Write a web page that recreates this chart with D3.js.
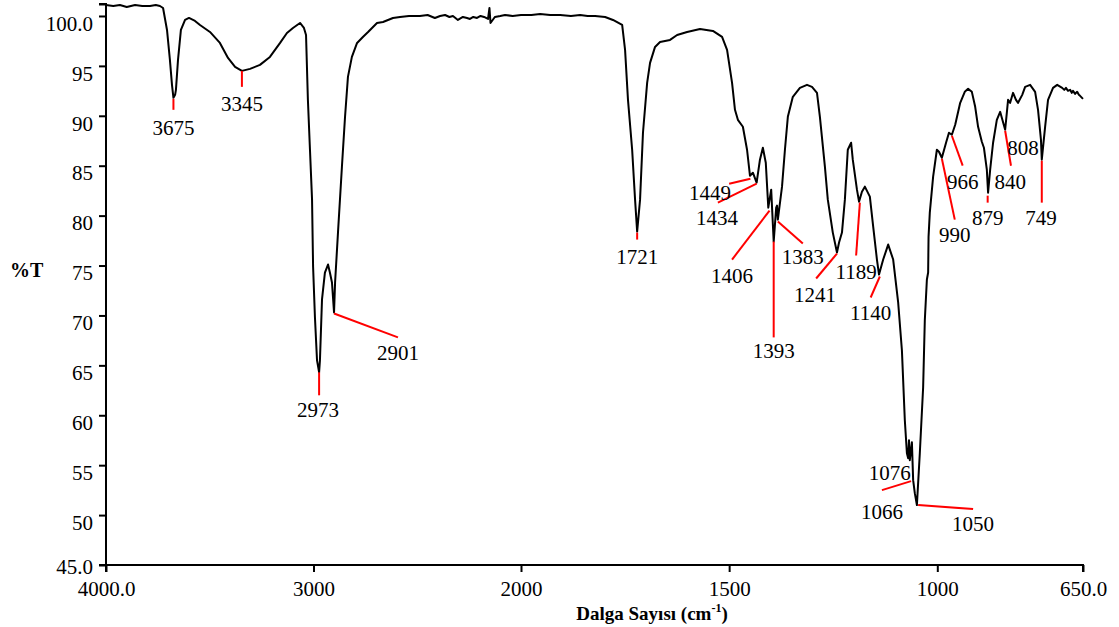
<!DOCTYPE html>
<head>
  <meta charset="utf-8">
  <title>FTIR</title>
  <style>
    body { margin: 0; background: #fff; }
    svg { display: block; }
    text { font-family: "Liberation Serif", "Times New Roman", serif; fill: #000; }
    .axis path, .axis line { stroke: #000; stroke-width: 2px; }
    .axis text { font-size: 21px; }
  </style>
</head>

<body>
  <div id="chart"></div>

  <script src="https://cdn.jsdelivr.net/npm/d3@7"></script>
  <script type="text/javascript">

    // spectrum (wavenumber cm-1, %T)
    var wavenumber = [4000, 3965, 3933, 3900, 3860, 3825, 3788, 3760, 3740, 3725, 3706, 3692, 3682, 3675, 3667, 3663, 3653, 3639, 3619, 3600, 3571, 3547, 3499, 3451, 3412, 3378, 3345, 3306, 3258, 3210, 3161, 3128, 3099, 3065, 3046, 3036, 3027, 3017, 3007, 3002, 2993, 2983, 2973, 2969, 2959, 2945, 2930, 2921, 2911, 2901, 2896, 2882, 2863, 2848, 2834, 2815, 2790, 2762, 2737, 2694, 2665, 2617, 2583, 2540, 2487, 2450, 2415, 2390, 2366, 2345, 2328, 2304, 2280, 2260, 2246, 2230, 2212, 2195, 2178, 2159, 2152, 2147, 2126, 2100, 2077, 2040, 2000,
      1975, 1954, 1930, 1906, 1880, 1858, 1840, 1822, 1798, 1779, 1757, 1750, 1743, 1733, 1726, 1721, 1714, 1707, 1697, 1690, 1678, 1666, 1642, 1625, 1601, 1570, 1539, 1517, 1505, 1493, 1486, 1479, 1467, 1457, 1450, 1443, 1434, 1426, 1419, 1412, 1406, 1399, 1393, 1387, 1385, 1383, 1373, 1366, 1359, 1347, 1330, 1313, 1301, 1289, 1282, 1270, 1263, 1251, 1241, 1236, 1229, 1222, 1215, 1207, 1203, 1193, 1188, 1181, 1174, 1162, 1154, 1145, 1140, 1130, 1118, 1106, 1094, 1085, 1078, 1073, 1070, 1068, 1066, 1061, 1058, 1054, 1049, 1042, 1034, 1030, 1025, 1022, 1021, 1018, 1010, 1001, 996, 989, 979, 972, 965, 957, 945, 934, 926, 917, 909, 902, 893, 888, 881, 878, 873, 866, 857, 849, 845, 837, 833, 830, 825, 818, 811, 806, 796, 789, 777, 765, 758, 751, 749, 741, 734, 722, 712, 700, 695, 691, 686, 681, 677, 674, 669, 664, 660, 657, 650];

    var transmittance = [101.1, 101.0, 101.1, 100.9, 101.1, 101.0, 101.0, 101.1, 101.0, 100.8, 98.6, 95.6, 93.1, 91.8, 92.1, 92.6, 95.6, 98.6, 99.6, 99.8, 99.5, 99.1, 98.4, 97.3, 95.8, 94.9, 94.5, 94.7, 95.1, 95.9, 97.3, 98.3, 98.8, 99.3, 98.8, 98.1, 91.6, 86.6, 81.6, 74.9, 69.8, 65.5, 64.3, 65.5, 71.6, 74.3, 75.1, 74.3, 73.3, 70.3, 73.3, 78.3, 84.9, 89.9, 93.9, 95.9, 97.3, 97.9, 98.4, 99.3, 99.4, 99.8, 99.9, 100.0, 100.0, 100.1, 99.8, 100.0, 100.1, 99.9, 100.0, 99.6, 99.9, 99.8, 99.7, 99.9, 99.8, 100.0, 99.9, 99.7, 100.8, 99.3, 99.9, 100.0, 100.1, 100.0, 100.1,
      100.1, 100.2, 100.1, 100.1, 100.0, 100.1, 100.0, 100.0, 99.9, 99.6, 99.1, 96.6, 91.6, 86.6, 81.6, 78.4, 81.6, 88.3, 93.3, 95.3, 96.9, 97.4, 97.6, 98.1, 98.4, 98.7, 98.5, 97.9, 96.6, 93.3, 90.6, 89.6, 88.9, 86.6, 84.0, 84.3, 83.3, 85.6, 86.8, 85.3, 80.8, 82.6, 77.4, 80.8, 81.0, 79.6, 82.9, 86.6, 89.9, 91.9, 92.8, 93.1, 92.9, 92.3, 89.9, 84.9, 81.6, 78.3, 76.3, 77.3, 78.3, 81.6, 86.6, 87.3, 85.6, 82.6, 81.4, 82.4, 82.9, 81.9, 78.9, 75.6, 74.1, 75.6, 77.1, 75.6, 71.3, 66.5, 59.5, 56.2, 55.7, 57.5, 55.5, 57.3, 53.5, 52.2, 51.0, 56.2, 62.8, 69.5, 73.6, 74.3, 77.9, 80.3, 83.9, 86.6, 86.4, 85.8, 87.3, 88.3, 88.1, 89.1, 91.3, 92.4, 92.7, 92.4, 90.9, 88.9, 87.4, 86.8, 84.6, 82.3, 84.6, 87.3, 89.6, 90.4, 89.8, 88.6, 90.3, 91.6, 91.3, 92.3, 91.6, 91.3, 92.1, 92.9, 93.1, 92.4, 90.6, 87.6, 85.6, 88.9, 91.6, 92.8, 93.1, 92.8, 92.6, 92.8, 92.5, 92.6, 92.3, 92.5, 92.2, 92.4, 92.1, 92.0, 91.7];

    // peak annotations: tip on the curve, end of red leader, text centre (data units)
    var peakLabels = ["3675", "3345", "2973", "2901", "1721", "1449", "1434", "1406", "1393", "1383", "1241", "1189", "1140", "1076", "1066", "1050", "990", "966", "879", "840", "808", "749"];
    var tipWn   = [3675, 3345, 2973, 2901, 1721, 1449, 1434, 1403, 1393, 1383, 1241, 1186, 1138, null, 1063, 1046, 989, 965, 879, 837, null, 749];
    var tipT    = [91.7, 94.5, 64.3, 70.2, 78.3, 83.7, 83.2, 80.5, 77.4, 79.4, 76.2, 81.3, 73.9, null, 53.4, 51.0, 85.7, 88.0, 82.0, 88.5, null, 85.5];
    var endWn   = [3675, 3345, 2973, 2593, 1721, 1500, 1527, 1493, 1393, 1323, 1291, 1195, 1160, null, 1133, 914, 958, 939, 879, 823, null, 749];
    var endT    = [90.6, 92.9, 62.0, 67.8, 77.6, 83.2, 81.3, 75.6, 67.8, 77.2, 73.7, 76.0, 71.8, null, 52.5, 50.6, 79.6, 85.0, 81.3, 85.0, null, 81.3];
    var textWn  = [3675, 3345, 2978, 2593, 1721, 1546, 1529, 1493, 1393, 1323, 1294, 1195, 1160, 1114, 1133, 914, 958, 939, 879, 825, 794, 751];
    var textT   = [88.8, 91.2, 60.6, 66.3, 75.9, 82.3, 79.8, 74.0, 66.5, 75.9, 72.1, 74.4, 70.3, 54.3, 50.3, 49.1, 78.1, 83.4, 79.8, 83.4, 86.8, 79.8];

    var xTicks = [4000, 3000, 2000, 1500, 1000, 650];
    var xTickLabels = ["4000.0", "3000", "2000", "1500", "1000", "650.0"];
    var yTicks = [45, 50, 55, 60, 65, 70, 75, 80, 85, 90, 95, 100, 101.2];
    var yTickLabels = ["45.0", "50", "55", "60", "65", "70", "75", "80", "85", "90", "95", "100.0", ""];

    var width = 1119, height = 627;

    var svg = d3.select("#chart").append("svg")
       .attr("width", width)
       .attr("height", height);

    // the x axis is compressed by half above 2000 cm-1
    var x = d3.scaleLinear().domain([4000, 2000, 650]).range([106, 521, 1083]);
    var y = d3.scaleLinear().domain([45, 101.2]).range([565, 4]);

    var xAxis = d3.axisBottom(x)
        .tickValues(xTicks)
        .tickSize(7)
        .tickPadding(6)
        .tickFormat((d, i) => xTickLabels[i]);

    var yAxis = d3.axisLeft(y)
        .tickValues(yTicks)
        .tickSize(7)
        .tickPadding(6)
        .tickFormat((d, i) => yTickLabels[i]);

    var gx = svg.append("g")
        .attr("class", "axis")
        .attr("transform", "translate(0,565)")
        .call(xAxis);
    gx.select(".domain").attr("d", "M106,7V0H1083V7");
    gx.selectAll("text").attr("dy", "0.88em");

    var gy = svg.append("g")
        .attr("class", "axis")
        .attr("transform", "translate(106,0)")
        .call(yAxis);
    gy.select(".domain").attr("d", "M-7,4H0V565H-7");
    // labels sit a little below their ticks, as in the original
    gy.selectAll("text").attr("dy", d => d == 45 ? "0.42em" : "0.68em");

    // spectrum
    var spectrum = wavenumber.map((w, i) => [w, transmittance[i]]);
    var line = d3.line()
        .x(d => x(d[0]))
        .y(d => y(d[1]));

    svg.append("path")
        .datum(spectrum)
        .attr("d", line)
        .attr("fill", "none")
        .attr("stroke", "#000")
        .attr("stroke-width", 2)
        .attr("stroke-linejoin", "round");

    // red leaders + peak labels
    var peaks = peakLabels.map((p, i) => ({
        label: p, tw: tipWn[i], tt: tipT[i], ew: endWn[i], et: endT[i], xw: textWn[i], xt: textT[i]
    }));

    svg.append("g").selectAll("line")
        .data(peaks.filter(d => d.tw != null))
        .join("line")
        .attr("x1", d => x(d.tw))
        .attr("y1", d => y(d.tt))
        .attr("x2", d => x(d.ew))
        .attr("y2", d => y(d.et))
        .attr("stroke", "#ff0000")
        .attr("stroke-width", 2);

    svg.append("g").selectAll("text")
        .data(peaks)
        .join("text")
        .attr("x", d => x(d.xw))
        .attr("y", d => y(d.xt))
        .attr("dy", "0.35em")
        .attr("text-anchor", "middle")
        .style("font-size", "21px")
        .text(d => d.label);

    // axis titles
    svg.append("text")
        .attr("x", 10)
        .attr("y", 277)
        .style("font-size", "20px")
        .style("font-weight", "bold")
        .text("%T");

    var xt = svg.append("text")
        .attr("x", 652)
        .attr("y", 620)
        .attr("text-anchor", "middle")
        .style("font-size", "19px")
        .style("font-weight", "bold");
    xt.append("tspan").text("Dalga Sayısı (cm");
    xt.append("tspan").attr("dy", -8).style("font-size", "12px").text("-1");
    xt.append("tspan").attr("dy", 8).text(")");

  </script>

</body>
